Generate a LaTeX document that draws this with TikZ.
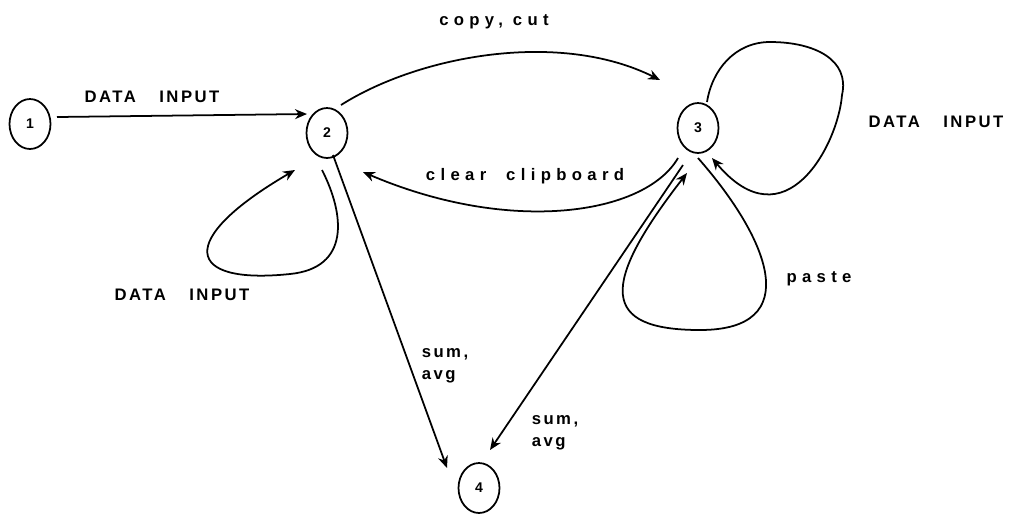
\documentclass[tikz,border=0pt]{standalone}
\usepackage{fontspec}
\newfontfamily\capsfont[LetterSpace=15]{Liberation Sans}
\newfontfamily\widefont[LetterSpace=32]{Liberation Sans}
\usetikzlibrary{arrows.meta, calc, shapes.geometric}

\begin{document}
\begin{tikzpicture}[
    x=0.02cm, y=-0.02cm,
    >=Stealth,
    line width=1pt,
    state/.style = {draw, ellipse, minimum width=0.82cm, minimum height=1cm, inner sep=0pt,
                    font=\fontsize{8}{9}\selectfont\capsfont\bfseries},
    trans/.style = {-{Stealth[length=2.4mm,width=2mm]}},
    caps/.style  = {font=\fontsize{9.5}{12.5}\selectfont\capsfont\bfseries, inner sep=0pt, align=left},
    wide/.style  = {font=\fontsize{9.5}{12.5}\selectfont\widefont\bfseries, inner sep=0pt},
]

\useasboundingbox (0,0) rectangle (1017,515);

% Estados
\node[state] (n1) at (30,124) {1};
\node[state] (n2) at (327,133) {2};
\node[state] (n3) at (698,128) {3};
\node[state] (n4) at (479,488) {4};

% 1. 1 -> 2
\draw[trans] ($(n1)+(27,-7)$) -- ($(n2)+(-20,-19)$);
\node[caps] (l12) at (152,97) {DATA\hspace{1.4em}INPUT};

% 2. 2 -> 3 (arriba)
\draw[trans] ($(n2)+(14,-28)$) .. controls (420,55) and (560,30) .. ($(n3)+(-38,-48)$);
\node[wide] (l23) at (494,22) {copy, cut};

% 3. 3 -> 2 (abajo)
\draw[trans] ($(n3)+(-20,30)$) .. controls (645,215) and (510,235) .. ($(n2)+(36,39)$);
\node[wide] (l32) at (525,176) {clear\ \ clipboard};

% 4. bucle en 2
\draw[trans] ($(n2)+(-5,37)$) .. controls (345,215) and (350,268) .. (290,274)
    .. controls (185,285) and (175,240) .. ($(n2)+(-32,37)$);
\node[caps] (l22) at (182,295) {DATA\hspace{1.4em}INPUT};

% 5. 2 -> 4
\draw[trans] ($(n2)+(6,22)$) -- ($(n4)+(-32,-20)$);
\node[caps] (l24) at (445,366) {sum,\\avg};

% 6. 3 -> 4
\draw[trans] ($(n3)+(-15,37)$) -- ($(n4)+(11,-38)$);
\node[caps] (l34) at (555,433) {sum,\\avg};

% 7. bucle en 3 (arriba-derecha)
\draw[trans] ($(n3)+(9,-26)$) .. controls (712,70) and (735,42) .. (770,42)
    .. controls (815,42) and (850,60) .. (842,95)
    .. controls (838,145) and (785,245) .. ($(n3)+(14,30)$);
\node[caps] (l33a) at (936,122) {DATA\hspace{1.4em}INPUT};

% 8. bucle en 3 (abajo)
\draw[trans] ($(n3)+(0,30)$) .. controls (770,240) and (805,330) .. (700,330)
    .. controls (600,330) and (600,285) .. ($(n3)+(-11,45)$);
\node[wide] (l33b) at (819,279) {paste};

\end{tikzpicture}
\end{document}
